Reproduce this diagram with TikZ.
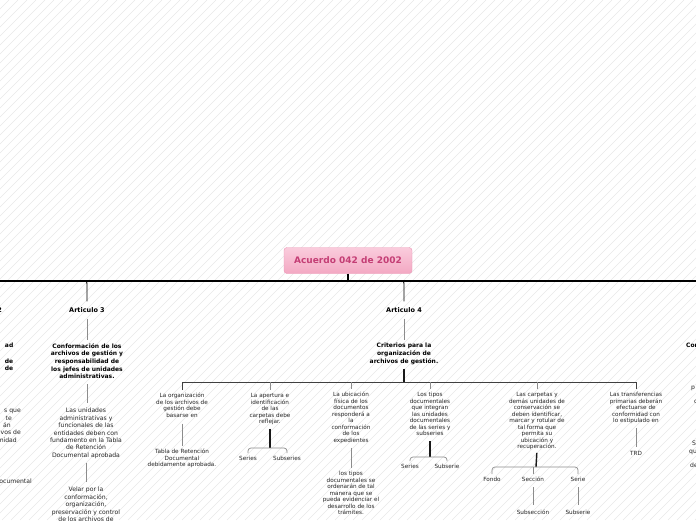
\documentclass[tikz,border=0pt]{standalone}
\usepackage{fontspec}
\setmainfont{DejaVu Sans}
\definecolor{titletop}{RGB}{250,204,220}
\definecolor{titlebot}{RGB}{243,168,195}
\definecolor{titleborder}{RGB}{236,150,182}
\definecolor{titletext}{RGB}{196,62,117}
\begin{document}
\begin{tikzpicture}[x=1pt,y=-1pt,
  art/.style={font=\bfseries\fontsize{6.5}{7.8}\selectfont, inner sep=0pt, anchor=center},
  btxt/.style={font=\bfseries\fontsize{6}{7.7}\selectfont, align=center, inner sep=0pt, anchor=north},
  atxt/.style={font=\fontsize{6.1}{7.4}\selectfont, align=center, inner sep=0pt, anchor=north, text=black!85},
  ctxt/.style={font=\fontsize{5.7}{6.5}\selectfont, align=center, inner sep=0pt, anchor=north, text=black!85},
  titlebox/.style={draw=titleborder, top color=titletop, bottom color=titlebot, rounded corners=3pt,
     minimum width=128pt, minimum height=26pt, inner sep=0pt, font=\bfseries\fontsize{9}{10}\selectfont, text=titletext},
  hatch/.style={line width=0.5pt, black!9},
  mainline/.style={line width=1.1pt, black},
  branchline/.style={line width=0.9pt, black},
  gline/.style={line width=0.7pt, black!45},
  heavyline/.style={line width=1.4pt, black!90},
  barline/.style={line width=1pt, black!75},
  brline/.style={line width=0.7pt, black!45, rounded corners=3pt}]
\useasboundingbox (0,0) rectangle (696,520);
\clip (0,0) rectangle (696,520);
\fill[white] (0,0) rectangle (696,520);
\foreach \k in {-520,-511,...,696} \draw[hatch] (\k,520) -- (\k+520,0);

% title and main line
\node[titlebox] (title) at (348,260.5) {Acuerdo 042 de 2002};
\coordinate (hl) at (0,281);
\coordinate (hr) at (696,281);
\draw[mainline] (hl) -- (hr);
\draw[mainline] (title.south) -- (title.south |- hl);

% left cut-off column (Articulo 2)
\node[art, anchor=east] (art2) at (2,310) {2};
\node[btxt, align=right, anchor=north east] (conf2) at (13.5,343) {ad\\\mbox{}\\de\\de};
\node[atxt, anchor=base east] (l1) at (21,412.7) {s que};
\node[atxt, anchor=base east] (l2) at (12,420.1) {te};
\node[atxt, anchor=base east] (l3) at (11,427.5) {án};
\node[atxt, anchor=base east] (l4) at (21,434.9) {vos de};
\node[atxt, anchor=base east] (l5) at (17,442.3) {nidad};
\node[atxt, anchor=base east] (l6) at (32,483.7) {ocumental};

% Articulo 3
\node[art] (art3) at (87,310) {Articulo 3};
\coordinate (h3) at (83,281);
\draw[branchline, shorten >=6pt] (h3) .. controls (87,281) .. (87,286) -- (art3.north);
\node[btxt] (conf3) at (87,343) {Conformación de los\\archivos de gestión y\\responsabilidad de\\los jefes de unidades\\administrativas.};
\draw[gline, shorten <=6pt, shorten >=3pt] (art3.south) -- (art3.south |- conf3.north);
\node[atxt] (unid3) at (86,408) {Las unidades\\administrativas y\\funcionales de las\\entidades deben con\\fundamento en la Tabla\\de Retención\\Documental aprobada};
\draw[gline, shorten <=5pt, shorten >=5pt] (conf3.south) -- (conf3.south |- unid3.north);
\node[atxt] (velar3) at (86,487) {Velar por la\\conformación,\\organización,\\preservación y control\\de los archivos de};
\draw[gline, shorten <=4pt, shorten >=5pt] (unid3.south) -- (unid3.south |- velar3.north);

% Articulo 4
\node[art] (art4) at (404,310) {Articulo 4};
\coordinate (h4) at (400,281);
\draw[branchline, shorten >=6pt] (h4) .. controls (404,281) .. (404,286) -- (art4.north);
\node[btxt] (crit4) at (404,343) {Criterios para la\\organización de\\archivos de gestión.};
\draw[gline, shorten <=6pt, shorten >=3pt] (art4.south) -- (art4.south |- crit4.north);
\coordinate (bar) at (404,382);
\draw[heavyline, shorten <=4pt] (crit4.south) -- (bar);

% children of Articulo 4
\node[ctxt] (c1) at (182,393.2) {La organización\\de los archivos de\\gestión debe\\basarse en};
\node[ctxt] (c1b) at (182,449.2) {Tabla de Retención\\Documental\\debidamente aprobada.};
\node[ctxt] (c2) at (270,393.2) {La apertura e\\identificación\\de las\\carpetas debe\\reflejar.};
\node[ctxt] (c2a) at (248,456.2) {Series};
\node[ctxt] (c2b) at (287,456.2) {Subseries};
\node[ctxt] (c3) at (351,392.2) {La ubicación\\física de los\\documentos\\responderá a\\la\\conformación\\de los\\expedientes};
\node[ctxt] (c3b) at (351,471.2) {los tipos\\documentales se\\ordenarán de tal\\manera que se\\pueda evidenciar el\\desarrollo de los\\trámites.};
\node[ctxt] (c4) at (430,392.2) {Los tipos\\documentales\\que integran\\las unidades\\documentales\\de las series y\\subseries};
\node[ctxt] (c4a) at (410,464.2) {Series};
\node[ctxt] (c4b) at (447,464.2) {Subserie};
\node[ctxt] (c5) at (537,392.2) {Las carpetas y\\demás unidades de\\conservación se\\deben identificar,\\marcar y rotular de\\tal forma que\\permita su\\ubicación y\\recuperación.};
\node[ctxt] (c5a) at (492,477.2) {Fondo};
\node[ctxt] (c5b) at (533,477.2) {Sección};
\node[ctxt] (c5c) at (578,477.2) {Serie};
\node[ctxt] (c5d) at (533,510.2) {Subsección};
\node[ctxt] (c5e) at (578,510.2) {Subserie};
\node[ctxt] (c6) at (636,392.2) {Las transferencias\\primarias deberán\\efectuarse de\\conformidad con\\lo estipulado en};
\node[ctxt] (c6b) at (636,451.2) {TRD};

\draw[barline] ([yshift=3pt]c1.north) -- (c1.north |- bar) -- (c6.north |- bar) -- ([yshift=3pt]c6.north);
\foreach \c in {c2,c3,c4,c5} \draw[gline] (\c.north |- bar) -- ([yshift=3pt]\c.north);

\draw[gline, shorten <=6pt, shorten >=3pt] (c1.south) -- (c1.south |- c1b.north);

\coordinate (j2) at (270,448);
\draw[heavyline, shorten <=4pt] (c2.south) -- (j2);
\draw[brline] ([yshift=3pt]c2a.north) |- (j2) -| ([yshift=3pt]c2b.north);

\draw[gline, shorten <=4pt, shorten >=3pt] (c3.south) -- (c3.south |- c3b.north);

\coordinate (j4) at (430,457);
\draw[heavyline, shorten <=5pt] (c4.south) -- (j4);
\draw[brline] ([yshift=3pt]c4a.north) |- (j4) -| ([yshift=3pt]c4b.north);

\coordinate (j5) at (536,467);
\draw[heavyline, shorten <=3pt] (c5.south) -- (j5);
\draw[brline] ([yshift=3pt]c5a.north) |- (j5) -| ([yshift=3pt]c5c.north);
\draw[gline] (c5b.north |- j5) -- ([yshift=3pt]c5b.north);
\draw[gline, shorten <=5pt, shorten >=5pt] (c5b.south) -- (c5b.south |- c5d.north);
\draw[gline, shorten <=5pt, shorten >=5pt] (c5c.south) -- (c5c.south |- c5e.north);

\draw[gline, shorten <=4pt, shorten >=4pt] (c6.south) -- (c6.south |- c6b.north);

% right cut-off column
\node[btxt, anchor=base west] (r0) at (686,347.7) {Con};
\node[atxt, anchor=base west] (r1) at (691,389.7) {p};
\node[atxt, anchor=base west] (r2) at (694,403.7) {c};
\node[atxt, anchor=base west] (r3) at (692,445.7) {S};
\node[atxt, anchor=base west] (r4) at (689,453.7) {qu};
\node[atxt, anchor=base west] (r5) at (690,467.7) {de};
\end{tikzpicture}
\end{document}
